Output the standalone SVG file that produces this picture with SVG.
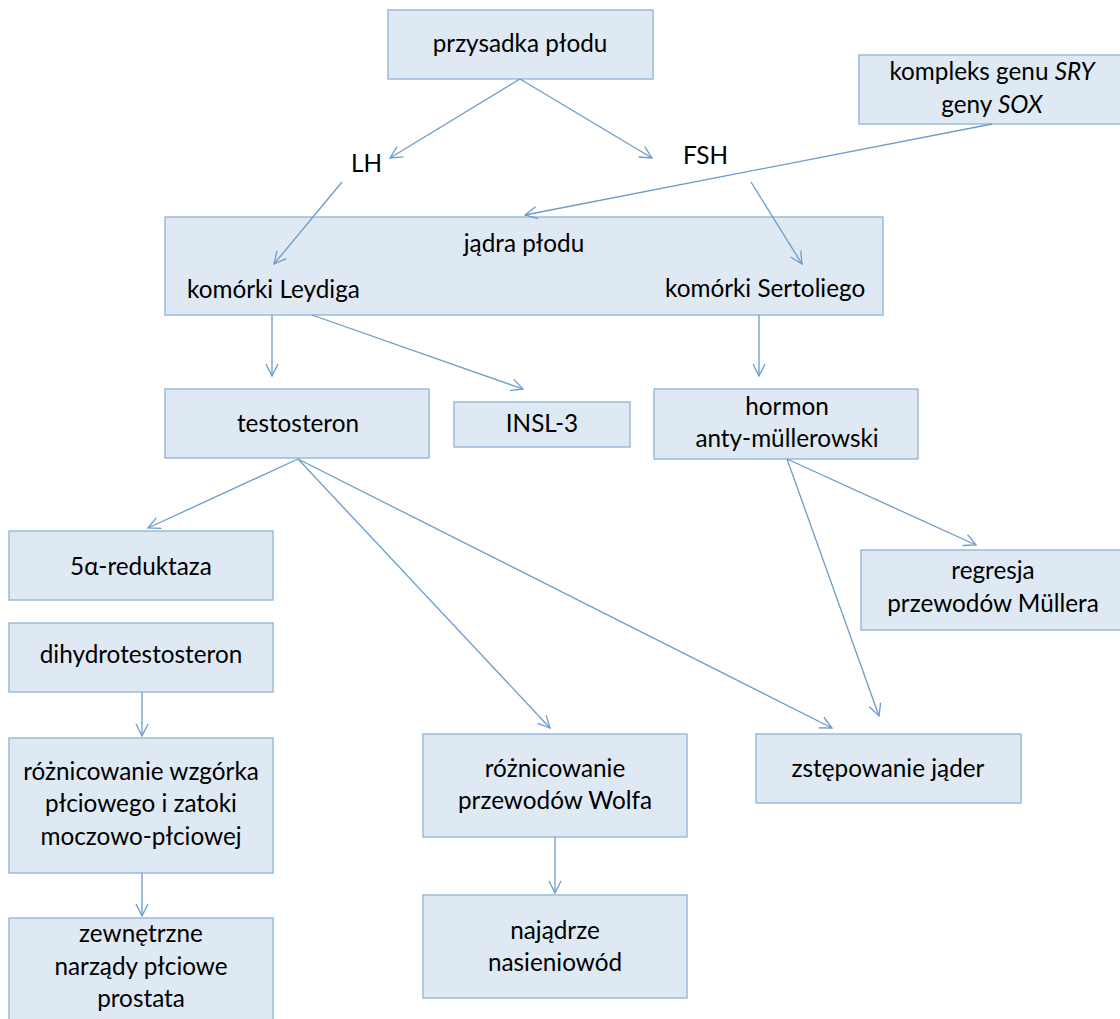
<svg xmlns="http://www.w3.org/2000/svg" width="1120" height="1019" viewBox="0 0 1120 1019">
<style>
.box{fill:#dfe9f4;stroke:#8fb1d7;stroke-width:1.3}
.t{font-family:Lato,"Open Sans","Liberation Sans",sans-serif;font-size:24.3px;fill:#000}
.c{text-anchor:middle}
.con line{stroke:#6c9cca;stroke-width:1.3;fill:none;marker-end:url(#ah)}
</style>
<defs>
<marker id="ah" viewBox="0 0 14 14" refX="13" refY="7" markerWidth="14" markerHeight="14" markerUnits="userSpaceOnUse" orient="auto">
<path d="M1,1 L13,7 L1,13" fill="none" stroke="#6c9cca" stroke-width="1.3"/>
</marker>
</defs>
<rect width="1120" height="1019" fill="#fff"/>

<g id="n-przysadka"><rect class="box" x="388" y="10" width="265" height="69"/><text class="t c" x="520" y="52">przysadka płodu</text></g>
<g id="n-kompleks"><rect class="box" x="859" y="55" width="262" height="69"/><text class="t c" x="992" y="80">kompleks genu <tspan font-style="italic">SRY</tspan></text><text class="t c" x="992" y="113">geny <tspan font-style="italic">SOX</tspan></text></g>
<g id="n-LH"><text class="t" x="351" y="172">LH</text></g>
<g id="n-FSH"><text class="t" x="683" y="164">FSH</text></g>
<g id="n-jadra"><rect class="box" x="165" y="217" width="718" height="98"/><text class="t c" x="524" y="252">jądra płodu</text><text class="t" x="187" y="298">komórki Leydiga</text><text class="t" x="665" y="297">komórki Sertoliego</text></g>
<g id="n-testosteron"><rect class="box" x="165" y="389" width="264" height="69"/><text class="t c" x="298" y="432">testosteron</text></g>
<g id="n-insl3"><rect class="box" x="454" y="402" width="176" height="45"/><text class="t c" x="542" y="432">INSL-3</text></g>
<g id="n-hormon"><rect class="box" x="654" y="389" width="264" height="70"/><text class="t c" x="787" y="415">hormon</text><text class="t c" x="787" y="447">anty-müllerowski</text></g>
<g id="n-regresja"><rect class="box" x="861" y="550" width="262" height="80"/><text class="t c" x="993" y="579">regresja</text><text class="t c" x="993" y="612">przewodów Müllera</text></g>
<g id="n-reduktaza"><rect class="box" x="9" y="531" width="264" height="69"/><text class="t c" x="141" y="575">5α-reduktaza</text></g>
<g id="n-dht"><rect class="box" x="9" y="623" width="264" height="69"/><text class="t c" x="141" y="663">dihydrotestosteron</text></g>
<g id="n-wzgorek"><rect class="box" x="9" y="738" width="264" height="135"/><text class="t c" x="141" y="780">różnicowanie wzgórka</text><text class="t c" x="141" y="812">płciowego i zatoki</text><text class="t c" x="141" y="845">moczowo-płciowej</text></g>
<g id="n-zewnetrzne"><rect class="box" x="9" y="918" width="264" height="110"/><text class="t c" x="141" y="942">zewnętrzne</text><text class="t c" x="141" y="975">narządy płciowe</text><text class="t c" x="141" y="1007">prostata</text></g>
<g id="n-wolf"><rect class="box" x="423" y="734" width="264" height="103"/><text class="t c" x="555" y="777">różnicowanie</text><text class="t c" x="555" y="809">przewodów Wolfa</text></g>
<g id="n-zstepowanie"><rect class="box" x="756" y="734" width="265" height="69"/><text class="t c" x="888" y="777">zstępowanie jąder</text></g>
<g id="n-najadrze"><rect class="box" x="423" y="895" width="264" height="103"/><text class="t c" x="555" y="939">najądrze</text><text class="t c" x="555" y="971">nasieniowód</text></g>

<g id="connectors" class="con">
<line x1="520" y1="79" x2="390" y2="158"/>
<line x1="520" y1="79" x2="652" y2="158"/>
<line x1="992" y1="124" x2="525" y2="215"/>
<line x1="342" y1="182" x2="274" y2="264"/>
<line x1="751" y1="182" x2="802" y2="264"/>
<line x1="272" y1="315" x2="272" y2="376"/>
<line x1="312" y1="315" x2="523" y2="389"/>
<line x1="759" y1="315" x2="759" y2="376"/>
<line x1="298" y1="459" x2="148" y2="528"/>
<line x1="298" y1="459" x2="550" y2="728"/>
<line x1="298" y1="459" x2="832" y2="728"/>
<line x1="787" y1="459" x2="976" y2="545"/>
<line x1="787" y1="459" x2="879" y2="716"/>
<line x1="142" y1="692" x2="142" y2="736"/>
<line x1="142" y1="873" x2="142" y2="916"/>
<line x1="555" y1="837" x2="555" y2="893"/>
</g>
</svg>
